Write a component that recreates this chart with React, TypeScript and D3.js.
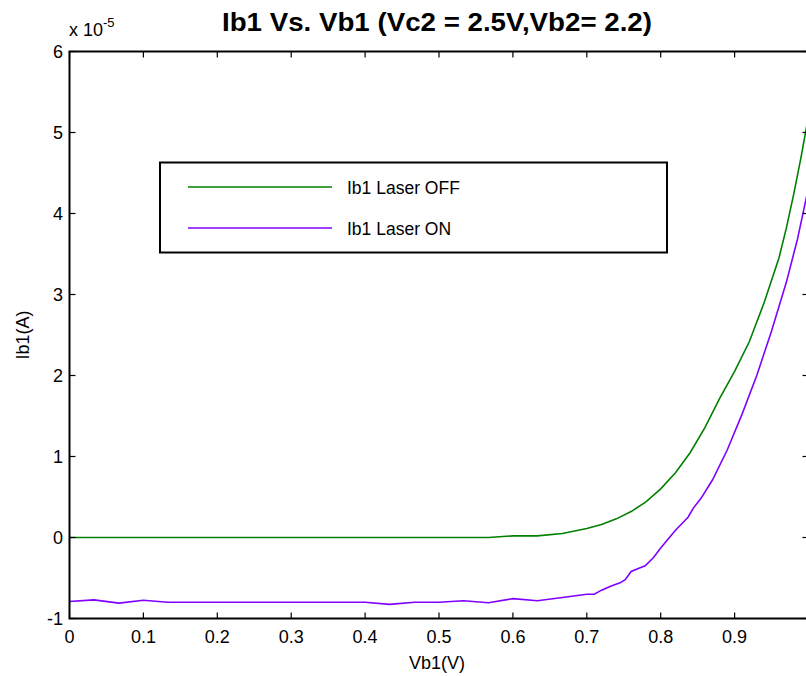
import React from "react";
import * as d3 from "d3";

const offX = [0, 0.1, 0.2, 0.3, 0.4, 0.5, 0.567, 0.6, 0.633, 0.667, 0.7, 0.72, 0.74, 0.76, 0.78, 0.8, 0.82, 0.84, 0.86, 0.88, 0.9, 0.92, 0.94, 0.96, 0.97, 0.98, 0.99, 1.0];
const offY = [0, 0, 0, 0, 0, 0, 0, 0.02, 0.02, 0.05, 0.11, 0.16, 0.23, 0.32, 0.44, 0.6, 0.8, 1.05, 1.36, 1.72, 2.05, 2.42, 2.9, 3.45, 3.82, 4.24, 4.7, 5.2];

const onX = [0, 0.033, 0.067, 0.1, 0.133, 0.167, 0.2, 0.233, 0.267, 0.3, 0.333, 0.367, 0.4, 0.433, 0.467, 0.5, 0.533, 0.567, 0.6, 0.633, 0.667, 0.7, 0.71, 0.72, 0.733, 0.745, 0.752, 0.76, 0.768, 0.779, 0.79, 0.8, 0.82, 0.837, 0.844, 0.855, 0.87, 0.89, 0.91, 0.93, 0.95, 0.97, 0.985, 1.0];
const onY = [-0.79, -0.77, -0.81, -0.775, -0.8, -0.8, -0.8, -0.8, -0.8, -0.8, -0.8, -0.8, -0.8, -0.825, -0.8, -0.8, -0.78, -0.805, -0.755, -0.78, -0.74, -0.7, -0.7, -0.65, -0.6, -0.56, -0.52, -0.42, -0.39, -0.35, -0.25, -0.13, 0.09, 0.25, 0.36, 0.49, 0.71, 1.08, 1.52, 2.0, 2.55, 3.15, 3.68, 4.32];

const xTicks = [0, 0.1, 0.2, 0.3, 0.4, 0.5, 0.6, 0.7, 0.8, 0.9];
const yTicks = [-1, 0, 1, 2, 3, 4, 5, 6];
const seriesNames = ["Ib1 Laser OFF", "Ib1 Laser ON"];
const colors = ["#008000", "#8000ff"];

const W = 806, H = 676;
const L = 69.5, R = 808.5, T = 51.5, B = 618.5;

export default function App() {
  const x = d3.scaleLinear().domain([0, 1]).range([L, R]);
  const y = d3.scaleLinear().domain([-1, 6]).range([B, T]);
  const line = d3.line<[number, number]>().x((d) => x(d[0])).y((d) => y(d[1]));
  const off = offX.map((v, i) => [v, offY[i]] as [number, number]);
  const on = onX.map((v, i) => [v, onY[i]] as [number, number]);
  const font = "Liberation Sans, Arial, Helvetica, sans-serif";
  return (
    <div style={{ position: "absolute", left: 0, top: 0 }}>
      <svg width={W} height={H} style={{ display: "block", background: "#fff" }} fontFamily={font}>
        <defs>
          <clipPath id="plotclip">
            <rect x={L} y={T} width={R - L} height={B - T} />
          </clipPath>
        </defs>
        <rect x={0} y={0} width={W} height={H} fill="#fff" />
        <g clipPath="url(#plotclip)" fill="none" strokeWidth={1.6}>
          <path d={line(off) || ""} stroke={colors[0]} />
          <path d={line(on) || ""} stroke={colors[1]} />
        </g>
        <rect x={L} y={T} width={R - L} height={B - T} fill="none" stroke="#000" strokeWidth={2} />
        {xTicks.map((t) => (
          <g key={"x" + t}>
            <line x1={x(t)} x2={x(t)} y1={B} y2={B - 6} stroke="#000" strokeWidth={1.2} />
            <line x1={x(t)} x2={x(t)} y1={T} y2={T + 6} stroke="#000" strokeWidth={1.2} />
            <text x={x(t)} y={643} fontSize={18} textAnchor="middle" fill="#000">
              {String(t)}
            </text>
          </g>
        ))}
        {yTicks.map((t) => (
          <g key={"y" + t}>
            <line x1={L} x2={L + 6} y1={y(t)} y2={y(t)} stroke="#000" strokeWidth={1.2} />
            <line x1={R} x2={R - 6} y1={y(t)} y2={y(t)} stroke="#000" strokeWidth={1.2} />
            <text x={63} y={y(t) + 6.5} fontSize={18} textAnchor="end" fill="#000">
              {String(t)}
            </text>
          </g>
        ))}
        <text x={69} y={36} fontSize={18} fill="#000">
          x 10<tspan dy={-9} fontSize={13}>-5</tspan>
        </text>
        <text x={437} y={31} fontSize={25} fontWeight="bold" textAnchor="middle" fill="#000"
          textLength={430} lengthAdjust="spacingAndGlyphs">
          Ib1 Vs. Vb1 (Vc2 = 2.5V,Vb2= 2.2)
        </text>
        <text x={437} y={669} fontSize={18} textAnchor="middle" fill="#000">
          Vb1(V)
        </text>
        <text transform={`translate(29, 335) rotate(-90)`} fontSize={18} textAnchor="middle" fill="#000">
          Ib1(A)
        </text>
        <rect x={160} y={162.5} width={507} height={90} fill="#fff" stroke="#000" strokeWidth={2} />
        {seriesNames.map((n, i) => (
          <g key={n}>
            <line x1={188} x2={332} y1={187 + i * 41} y2={187 + i * 41} stroke={colors[i]} strokeWidth={1.6} />
            <text x={347} y={194 + i * 41} fontSize={17.5} fill="#000">
              {n}
            </text>
          </g>
        ))}
      </svg>
    </div>
  );
}
